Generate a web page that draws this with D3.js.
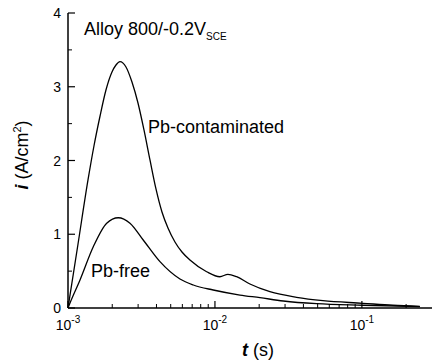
<!DOCTYPE html>
<html>
<head>
<meta charset="utf-8">
<script src="https://cdn.jsdelivr.net/npm/d3@7"></script>
<style>
  body { margin: 0; background: #fff; }
  svg { display: block; font-family: Arial, "Liberation Sans", sans-serif; }
</style>
</head>
<body>
<div id="chart"></div>
<script>
// time (s) and current density (A/cm2)
const tContaminated = [0.001, 0.00117, 0.001368, 0.001503, 0.001651, 0.001813, 0.001992, 0.002121, 0.002258, 0.002481, 0.002725, 0.002994, 0.003289, 0.003613, 0.003969, 0.00436, 0.00479, 0.005345, 0.005965, 0.00676, 0.00878, 0.01081, 0.01225, 0.01405, 0.0173, 0.02366, 0.0359, 0.0543, 0.1016, 0.1626, 0.248];
const iContaminated = [0, 0.868, 1.736, 2.2, 2.6, 2.956, 3.2, 3.295, 3.34, 3.268, 3.064, 2.78, 2.414, 2.007, 1.614, 1.302, 1.085, 0.895, 0.759, 0.651, 0.492, 0.424, 0.457, 0.424, 0.325, 0.221, 0.145, 0.099, 0.064, 0.037, 0.023];

const tFree = [0.001, 0.001032, 0.001207, 0.001486, 0.001834, 0.002199, 0.002641, 0.00325, 0.004225, 0.00578, 0.00712, 0.00973, 0.01479, 0.02024, 0.0292, 0.0492, 0.1016, 0.248];
const iFree = [0, 0.068, 0.38, 0.83, 1.15, 1.224, 1.15, 0.922, 0.628, 0.393, 0.312, 0.244, 0.176, 0.14, 0.095, 0.058, 0.037, 0.018];

const xMajor = [1e-3, 1e-2, 1e-1];
const xMajorExp = ["-3", "-2", "-1"];
const yMajor = [0, 1, 2, 3, 4];
const yMinor = [0.5, 1.5, 2.5, 3.5];

const width = 432, height = 363;
const margin = { left: 68, right: 432, top: 13, bottom: 308 };

const svg = d3.select("#chart").append("svg")
    .attr("width", width)
    .attr("height", height);

const x = d3.scaleLog().domain([1e-3, 0.3]).range([margin.left, margin.right]);
const y = d3.scaleLinear().domain([0, 4]).range([margin.bottom, margin.top]);

// minor ticks on the log axis
const xMinor = [];
[1e-3, 1e-2, 1e-1].forEach(d => {
    for (let k = 2; k <= 9; k++) {
        const v = d * k;
        if (v <= 0.3) xMinor.push(v);
    }
});

const gx = svg.append("g").attr("transform", "translate(0," + margin.bottom + ")");
gx.append("line").attr("x1", margin.left).attr("x2", margin.right)
    .attr("stroke", "#000").attr("stroke-width", 1.5);
gx.selectAll(".minor").data(xMinor).enter().append("line")
    .attr("x1", d => x(d)).attr("x2", d => x(d))
    .attr("y1", 0).attr("y2", -4)
    .attr("stroke", "#000").attr("stroke-width", 1);
gx.selectAll(".major").data(xMajor).enter().append("line")
    .attr("x1", d => x(d)).attr("x2", d => x(d))
    .attr("y1", 0).attr("y2", -7)
    .attr("stroke", "#000").attr("stroke-width", 1.2);
const xl = gx.selectAll(".lab").data(xMajor).enter().append("text")
    .attr("x", d => x(d)).attr("y", 22)
    .attr("text-anchor", "middle")
    .attr("font-size", 14);
xl.append("tspan").text("10");
xl.append("tspan").attr("dy", -7).attr("font-size", 10).text((d, i) => xMajorExp[i]);

const gy = svg.append("g").attr("transform", "translate(" + margin.left + ",0)");
gy.append("line").attr("y1", y(0)).attr("y2", y(4))
    .attr("stroke", "#000").attr("stroke-width", 1.5);
gy.selectAll(".minor").data(yMinor).enter().append("line")
    .attr("y1", d => y(d)).attr("y2", d => y(d))
    .attr("x1", 0).attr("x2", 4)
    .attr("stroke", "#000").attr("stroke-width", 1);
gy.selectAll(".major").data(yMajor).enter().append("line")
    .attr("y1", d => y(d)).attr("y2", d => y(d))
    .attr("x1", 0).attr("x2", 7)
    .attr("stroke", "#000").attr("stroke-width", 1.2);
gy.selectAll(".lab").data(yMajor).enter().append("text")
    .attr("x", -7).attr("y", d => y(d))
    .attr("dy", "0.36em")
    .attr("text-anchor", "end")
    .attr("font-size", 14)
    .text(d => d);

// curves
const line = d3.line()
    .x(d => x(d[0]))
    .y(d => y(d[1]))
    .curve(d3.curveMonotoneX);

svg.append("path")
    .datum(tContaminated.map((t, i) => [t, iContaminated[i]]))
    .attr("d", line)
    .attr("fill", "none").attr("stroke", "#000").attr("stroke-width", 1.3);

svg.append("path")
    .datum(tFree.map((t, i) => [t, iFree[i]]))
    .attr("d", line)
    .attr("fill", "none").attr("stroke", "#000").attr("stroke-width", 1.3);

// annotations
const title = svg.append("text").attr("x", 84).attr("y", 35).attr("font-size", 18);
title.append("tspan").text("Alloy 800/-0.2V");
title.append("tspan").attr("dy", 5).attr("font-size", 10).text("SCE");

svg.append("text").attr("x", 148).attr("y", 133).attr("font-size", 18).text("Pb-contaminated");
svg.append("text").attr("x", 91).attr("y", 277).attr("font-size", 18).text("Pb-free");

// axis titles
const xt = svg.append("text").attr("x", 258).attr("y", 356)
    .attr("text-anchor", "middle").attr("font-size", 18);
xt.append("tspan").attr("font-weight", "bold").attr("font-style", "italic").text("t");
xt.append("tspan").text(" (s)");

const yt = svg.append("text")
    .attr("transform", "translate(28,155) rotate(-90)")
    .attr("text-anchor", "middle").attr("font-size", 18);
yt.append("tspan").attr("font-weight", "bold").attr("font-style", "italic").text("i");
yt.append("tspan").text(" (A/cm");
yt.append("tspan").attr("dy", -7).attr("font-size", 11).text("2");
yt.append("tspan").attr("dy", 7).text(")");
</script>
</body>
</html>
